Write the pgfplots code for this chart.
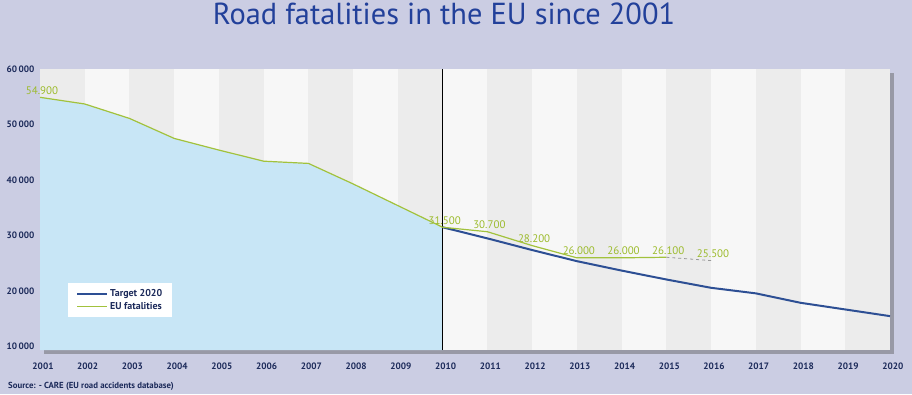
\documentclass[border=0pt]{standalone}
\usepackage{pgfplots}
\pgfplotsset{compat=1.18}
\usepackage{fontspec}
\setmainfont{PT Sans}
\usetikzlibrary{shadows}
\definecolor{bg}{HTML}{CBCDE3}
\definecolor{navy}{HTML}{1C2A5A}
\definecolor{titleblue}{HTML}{22409A}
\definecolor{eugreen}{HTML}{A2C23C}
\definecolor{labgreen}{HTML}{9CBB2C}
\definecolor{tblue}{HTML}{2D4F94}
\definecolor{areablue}{HTML}{C8E6F6}
\definecolor{darkband}{HTML}{ECECEC}
\definecolor{lightband}{HTML}{F7F7F7}
\begin{document}
\begin{tikzpicture}[x=1bp,y=1bp]
\fill[bg] (0,0) rectangle (912,394);
\path[use as bounding box] (0,0) rectangle (912,394);
\fill[white, drop shadow={shadow xshift=4bp, shadow yshift=-4bp, opacity=0.4, fill=black!70}] (40,44) rectangle (890,325);
\node[text=titleblue, font=\fontsize{30.5}{34}\selectfont] at (444,380) {Road fatalities in the EU since 2001};
\node[anchor=west, text=navy, font=\bfseries\fontsize{8.8}{10}\selectfont, inner sep=0pt] at (8,8) {Source: - CARE (EU road accidents database)};
\begin{axis}[
  at={(40bp,44bp)}, anchor=south west,
  width=850bp, height=281bp, scale only axis,
  xmin=2001, xmax=2020, ymin=9400, ymax=60000,
  clip=false,
  axis line style={draw=none},
  major tick length=0pt,
  axis background/.style={fill=lightband},
  xtick={2001,2002,...,2020},
  ytick={10000,20000,...,60000},
  scaled y ticks=false,
  /pgf/number format/assume math mode=true,
  xticklabel style={font=\bfseries\fontsize{9.3}{10}\selectfont, text=navy, yshift=-9bp, xshift=3bp, /pgf/number format/1000 sep={}},
  yticklabel style={font=\bfseries\fontsize{9.3}{10}\selectfont, text=navy, xshift=-2bp, /pgf/number format/1000 sep={\,}},
  legend style={at={(0.033,0.238)}, anchor=north west, draw=none, fill=white,
    font=\bfseries\fontsize{10}{12}\selectfont, text=navy,
    inner xsep=8bp, inner ysep=4.5bp, row sep=0bp},
  legend cell align=left,
  legend image code/.code={\draw[#1] (0bp,0bp) -- (30bp,0bp);},
]
% alternating year bands
\fill[darkband] (axis cs:2001,9400) rectangle (axis cs:2002,60000);
\fill[darkband] (axis cs:2003,9400) rectangle (axis cs:2004,60000);
\fill[darkband] (axis cs:2005,9400) rectangle (axis cs:2006,60000);
\fill[darkband] (axis cs:2007,9400) rectangle (axis cs:2008,60000);
\fill[darkband] (axis cs:2009,9400) rectangle (axis cs:2010,60000);
\fill[darkband] (axis cs:2011,9400) rectangle (axis cs:2012,60000);
\fill[darkband] (axis cs:2013,9400) rectangle (axis cs:2014,60000);
\fill[darkband] (axis cs:2015,9400) rectangle (axis cs:2016,60000);
\fill[darkband] (axis cs:2017,9400) rectangle (axis cs:2018,60000);
\fill[darkband] (axis cs:2019,9400) rectangle (axis cs:2020,60000);
% area under EU fatalities until 2010
\addplot[fill=areablue, draw=none, forget plot] coordinates {
 (2001,54900) (2002,53700) (2003,51100) (2004,47500) (2005,45400)
 (2006,43400) (2007,43000) (2008,39300) (2009,35400) (2010,31500)
 (2010,9400) (2001,9400)} -- cycle;
\draw[black, line width=0.9bp] (axis cs:2010,9400) -- (axis cs:2010,60000);
% Target 2020
\addplot[tblue, line width=2bp] coordinates {
 (2010,31500) (2011,29500) (2012,27400) (2013,25400) (2014,23700)
 (2015,22100) (2016,20600) (2017,19600) (2018,17900) (2019,16700) (2020,15500)};
\addlegendentry{Target 2020}
% EU fatalities
\addplot[eugreen, line width=1.2bp] coordinates {
 (2001,54900) (2002,53700) (2003,51100) (2004,47500) (2005,45400)
 (2006,43400) (2007,43000) (2008,39300) (2009,35400) (2010,31500)
 (2011,30700) (2012,28200) (2013,26000) (2014,26000) (2015,26100)};
\addlegendentry{EU fatalities}
\addplot[gray!80, dashed, line width=0.8bp, forget plot] coordinates {(2015,26100) (2016,25500)};
% value labels
\addplot[draw=none, forget plot, point meta=y, nodes near coords,
  nodes near coords style={font=\fontsize{11}{12}\selectfont, text=labgreen, anchor=south, xshift=2bp, inner sep=2.5bp,
  /pgf/number format/.cd, fixed, 1000 sep={.}}] coordinates {
 (2001,54900) (2010,31500) (2011,30700) (2012,28200) (2013,26000)
 (2014,26000) (2015,26100) (2016,25500)};
\end{axis}
\end{tikzpicture}
\end{document}
